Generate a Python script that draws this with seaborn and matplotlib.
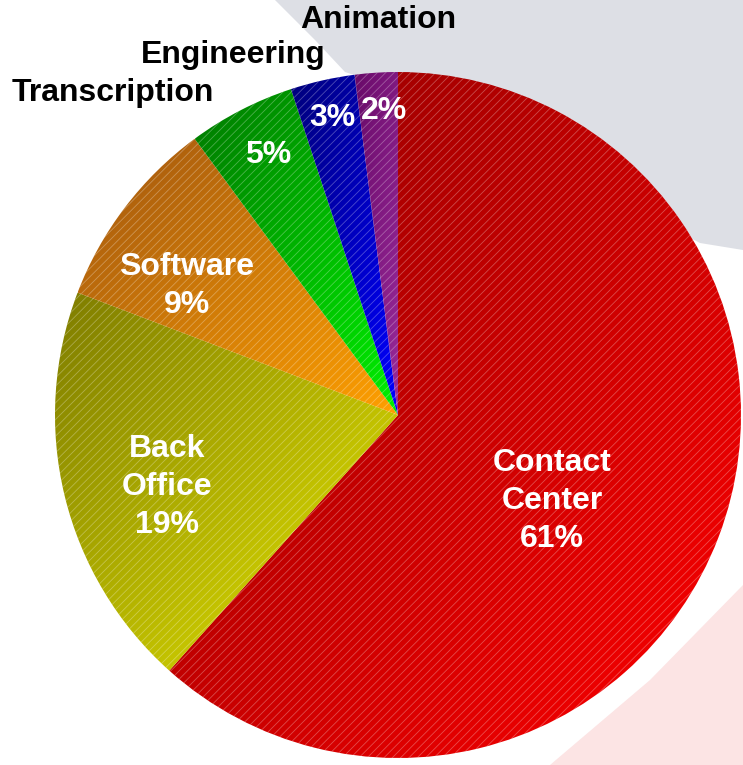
import numpy as np
import matplotlib
matplotlib.use("Agg")
import matplotlib.pyplot as plt
import seaborn as sns
from matplotlib.colors import LinearSegmentedColormap
from matplotlib.patches import Polygon

sns.set_style("white")
plt.rcParams["font.family"] = ["Liberation Sans", "DejaVu Sans"]
plt.rcParams["hatch.linewidth"] = 0.6

# data
categories = ["Contact Center", "Back Office", "Software", "Transcription", "Engineering", "Animation"]
shares = [61, 19, 9, 5, 3, 2]
inner_labels = ["Contact\nCenter\n61%", "Back\nOffice\n19%", "Software\n9%", "5%", "3%", "2%"]
outer_labels = ["", "", "", "Transcription", "Engineering", "Animation"]

# dark -> light gradient per slice
dark_colors = ["#900000", "#7e7c00", "#a05510", "#007800", "#00007a", "#680a68"]
light_colors = ["#ff0000", "#e8e800", "#ffa000", "#00f000", "#0000ff", "#9a2a9a"]

W, H = 743, 765
fig = plt.figure(figsize=(W / 100, H / 100), dpi=100)
ax = fig.add_axes([0, 0, 1, 1])

# soft background shapes
ax.add_patch(Polygon([(275, 0), (W, 0), (W, -250), (700, -243), (570, -175), (430, -100), (345, -72), (315, -40)],
                     closed=True, facecolor="#dddfe5", edgecolor="none", zorder=0))
ax.add_patch(Polygon([(W, -585), (W, -H), (550, -H), (650, -680)],
                     closed=True, facecolor="#fce4e4", edgecolor="none", zorder=0))

cx, cy, r = 398, -415, 343
wedges, _ = ax.pie(shares, startangle=90, counterclock=False, center=(cx, cy), radius=r,
                   colors=light_colors, wedgeprops=dict(linewidth=0), frame=True)
ax.set_xlim(0, W)
ax.set_ylim(-H, 0)
ax.set_aspect("equal")
ax.axis("off")

# diagonal gradient inside each slice (top-left dark to bottom-right bright)
gx, gy = np.meshgrid(np.linspace(0, 1, 300), np.linspace(0, 1, 300))
grad = np.clip((gx + gy) / 2, 0, 1)
for w, dc, lc in zip(wedges, dark_colors, light_colors):
    bb = w.get_path().get_extents()
    cmap = LinearSegmentedColormap.from_list("g", [dc, lc])
    im = ax.imshow(grad, cmap=cmap, extent=(bb.x0, bb.x1, bb.y0, bb.y1), origin="upper",
                   zorder=2, interpolation="bilinear")
    im.set_clip_path(w)
    w.set_facecolor("none")
    w.set_edgecolor((1, 1, 1, 0.3))
    w.set_hatch("////")
    w.set_zorder(3)

# labels inside slices
inner_pos = [(552, -501), (167, -487), (187, -286), (268, -155), (332, -118), (384, -111)]
for lab, (x, y) in zip(inner_labels, inner_pos):
    ax.text(x, y, lab, ha="center", va="center", color="white", fontsize=23,
            fontweight="bold", linespacing=1.35, zorder=5)

# labels of the small slices, outside
outer_pos = [None, None, None, (113, -93), (233, -55), (378, -20)]
for lab, pos in zip(outer_labels, outer_pos):
    if lab:
        ax.text(pos[0], pos[1], lab, ha="center", va="center", color="black",
                fontsize=23, fontweight="bold", zorder=5)

fig.savefig("out.png", dpi=100, facecolor="white")
